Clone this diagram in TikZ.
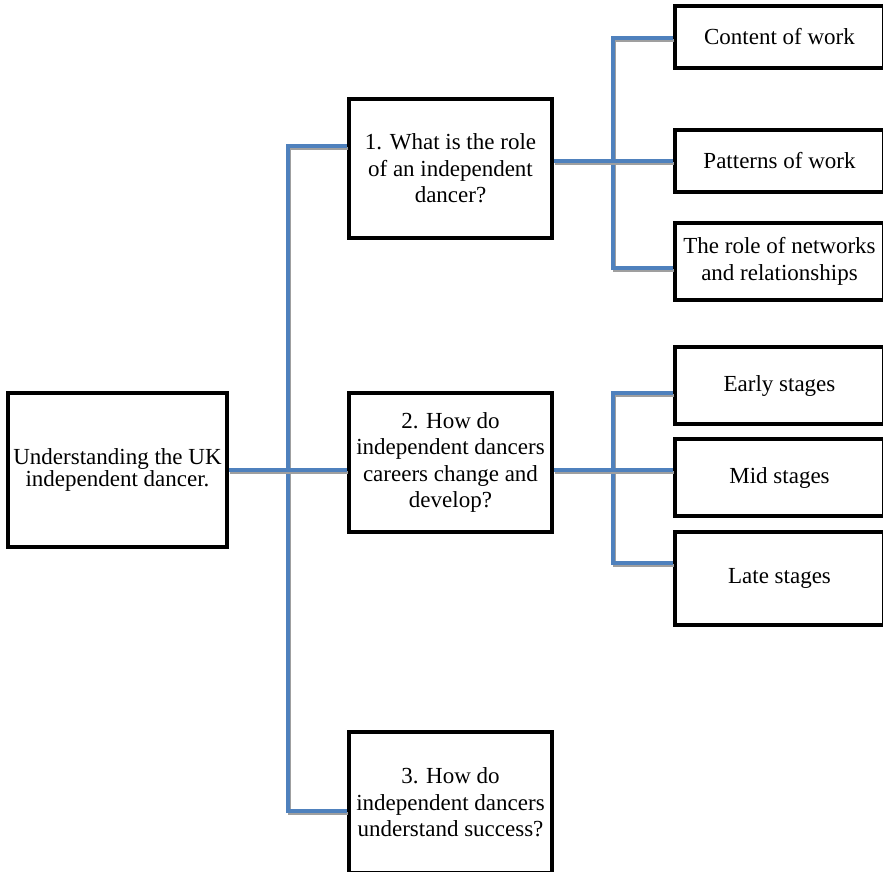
\documentclass[tikz,border=0pt]{standalone}
\usepackage{fontspec}
\setmainfont{Liberation Serif}
\definecolor{linkblue}{HTML}{4F81BD}
\begin{document}
\begin{tikzpicture}[x=1pt, y=-1pt, line join=miter,
	box/.style={draw, line width=3.5pt, align=center, inner sep=2pt, font=\fontsize{23}{26.5}\selectfont},
	link/.style={linkblue, line width=3.2pt, preaction={draw, gray!75, line width=3pt, transform canvas={shift={(1pt,-2.2pt)}}}}]
		\useasboundingbox (0,0) rectangle (883,871);
		\clip (0,0) rectangle (883,871);
		% left side
		\node[box, minimum width=219pt, minimum height=154pt, font=\fontsize{23}{18.5}\selectfont] (root) at (117.5,470) {Understanding the UK\\independent dancer.};
		\node[box, minimum width=203pt, minimum height=139pt] (q1) at (450.5,168.5) {1. What is the role\\of an independent\\dancer?};
		\node[box, minimum width=203pt, minimum height=139pt] (q2) at (450.5,462.5) {2. How do\\independent dancers\\careers change and\\develop?};
		\node[box, minimum width=203pt, minimum height=141pt] (q3) at (450.5,802.5) {3. How do\\independent dancers\\understand success?};
		% right side
		\node[box, minimum width=209pt, minimum height=62pt] (work) at (779.5,37) {Content of work};
		\node[box, minimum width=209pt, minimum height=62pt] (pattern) at (779.5,161) {Patterns of work};
		\node[box, minimum width=209pt, minimum height=77pt] (network) at (779.5,261.5) {The role of networks\\and relationships};
		\node[box, minimum width=209pt, minimum height=77pt] (early) at (779.5,385.5) {Early stages};
		\node[box, minimum width=209pt, minimum height=77pt] (mid) at (779.5,477.5) {Mid stages};
		\node[box, minimum width=209pt, minimum height=93pt] (late) at (779.5,578.5) {Late stages};
		% joints
		\coordinate (t1) at (288,146);
		\coordinate (t2) at (288,470);
		\coordinate (t3) at (288,811);
		\coordinate (a1) at (613,38);
		\coordinate (a2) at (613,161);
		\coordinate (a3) at (613,268);
		\coordinate (b1) at (613,393);
		\coordinate (b2) at (613,470);
		\coordinate (b3) at (613,563);
		% connectors
		\draw[link] (q1.west |- t1)--(t1)--(t3)--(q3.west |- t3);
		\draw[link] (root.east |- t2)--(q2.west |- t2);
		\draw[link] (work.west |- a1)--(a1)--(a3)--(network.west |- a3);
		\draw[link] (q1.east |- a2)--(pattern.west |- a2);
		\draw[link] (early.west |- b1)--(b1)--(b3)--(late.west |- b3);
		\draw[link] (q2.east |- b2)--(mid.west |- b2);
	\end{tikzpicture}
\end{document}
